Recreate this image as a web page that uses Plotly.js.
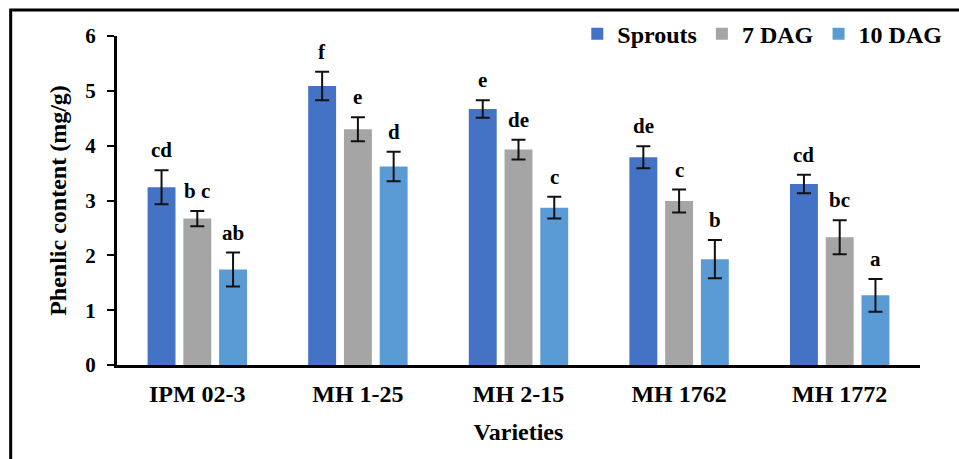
<!DOCTYPE html>
<html>
<head>
<meta charset="utf-8">
<script src="https://cdn.plot.ly/plotly-3.0.1.min.js"></script>
<style>html,body{margin:0;padding:0;background:#fff;}#chart{width:959px;height:459px;}</style>
</head>
<body>
<div id="chart"></div>
<script>
const varieties = ["IPM 02-3", "MH 1-25", "MH 2-15", "MH 1762", "MH 1772"];
const seriesNames = ["Sprouts", "7 DAG", "10 DAG"];
const sprouts = [3.24, 5.09, 4.67, 3.79, 3.30];
const sproutsErr = [0.31, 0.26, 0.16, 0.20, 0.17];
const dag7 = [2.67, 4.30, 3.93, 2.99, 2.33];
const dag7Err = [0.14, 0.22, 0.18, 0.21, 0.31];
const dag10 = [1.74, 3.62, 2.87, 1.93, 1.27];
const dag10Err = [0.31, 0.27, 0.20, 0.35, 0.30];
const sproutsLetters = ["cd", "f", "e", "de", "cd"];
const dag7Letters = ["b c", "e", "de", "c", "bc"];
const dag10Letters = ["ab", "d", "c", "b", "a"];
const colors = ["#4472C4", "#A5A5A5", "#5B9BD5"];

const FONT = "Liberation Serif, Times New Roman, serif";
const bargap = 0.332;
const bargroupgap = 0.22;

const vals = [sprouts, dag7, dag10];
const errs = [sproutsErr, dag7Err, dag10Err];
const letters = [sproutsLetters, dag7Letters, dag10Letters];

const traces = vals.map((v, s) => ({
  type: 'bar',
  name: seriesNames[s],
  x: varieties,
  y: v,
  marker: {color: colors[s]},
  error_y: {type: 'data', array: errs[s], visible: true, color: '#111', thickness: 2, width: 7}
}));

const slot = (1 - bargap) / 3;
const annotations = [];
vals.forEach((v, s) => {
  v.forEach((val, i) => {
    annotations.push({
      x: i + (s - 1) * slot, y: val + errs[s][i], xref: 'x', yref: 'y',
      text: letters[s][i], showarrow: false, yanchor: 'bottom', yshift: 6,
      font: {family: FONT, size: 21, color: '#000', weight: 'bold'}
    });
  });
});

const layout = {
  width: 959, height: 459,
  margin: {l: 117, r: 34, t: 35, b: 94},
  paper_bgcolor: '#fff', plot_bgcolor: '#fff',
  barmode: 'group', bargap: bargap, bargroupgap: bargroupgap,
  font: {family: FONT, color: '#000'},
  showlegend: true,
  legend: {orientation: 'h', x: 1.034, xanchor: 'right', y: 1.006, yanchor: 'middle',
    font: {family: FONT, size: 24, color: '#000', weight: 'bold'}, bgcolor: 'rgba(0,0,0,0)'},
  xaxis: {
    type: 'category', showline: true, linecolor: '#000', linewidth: 3, ticks: '', showgrid: false,
    tickfont: {family: FONT, size: 24, color: '#000', weight: 'bold'}, ticklabelstandoff: 5,
    title: {text: 'Varieties', font: {family: FONT, size: 24, color: '#000', weight: 'bold'}, standoff: 18}
  },
  yaxis: {
    range: [0, 6], dtick: 1, showline: true, linecolor: '#000', linewidth: 3, showgrid: false, zeroline: false,
    ticks: 'outside', ticklen: 7, tickwidth: 2, tickcolor: '#000',
    tickfont: {family: FONT, size: 21, color: '#000', weight: 'bold'}, ticklabelstandoff: 7,
    title: {text: 'Phenlic content (mg/g)', font: {family: FONT, size: 24, color: '#000', weight: 'bold'}, standoff: 12}
  },
  annotations: annotations,
  shapes: [{type: 'rect', xref: 'paper', yref: 'paper', x0: -0.1324, x1: 1.1, y0: -0.35, y1: 1.0788,
    line: {color: '#000', width: 3}}]
};

Plotly.newPlot('chart', traces, layout, {displayModeBar: false, staticPlot: true});
</script>
</body>
</html>
